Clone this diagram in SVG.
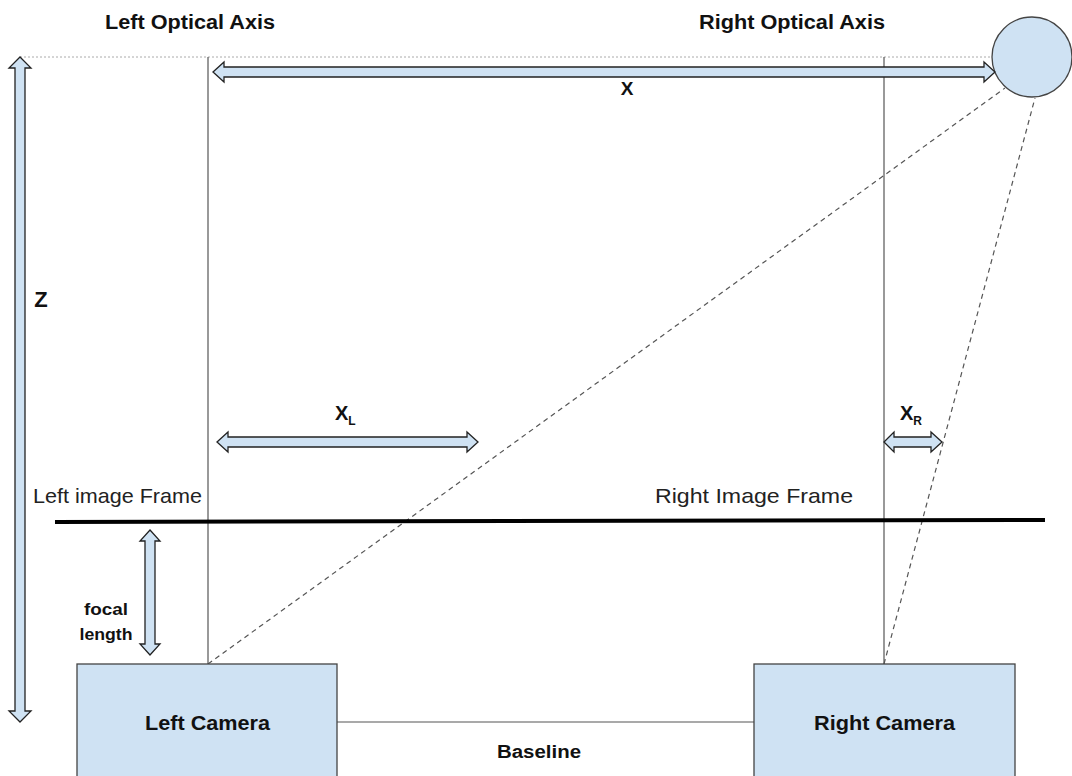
<svg xmlns="http://www.w3.org/2000/svg" width="1072" height="776" viewBox="0 0 1072 776">
  <style>
    .bold { font-family: "Liberation Sans", Arial, sans-serif; font-weight: bold; fill: #111; }
    .reg { font-family: "Liberation Sans", Arial, sans-serif; fill: #222; }
    .box { fill: #cfe2f3; stroke: #444; stroke-width: 1.3; }
    .dim { fill: #cfe2f3; stroke: #222; stroke-width: 1.3; stroke-linejoin: miter; }
    .axis { stroke: #555; stroke-width: 1.2; fill: none; }
    .ray { stroke: #555; stroke-width: 1.2; stroke-dasharray: 5 4; fill: none; }
    .guide { stroke: #aaa; stroke-width: 1; stroke-dasharray: 2 2; fill: none; }
  </style>
  <rect width="1072" height="776" fill="#ffffff"/>

  <!-- axis titles -->
  <text class="bold" x="105" y="29" font-size="20" textLength="170" lengthAdjust="spacingAndGlyphs">Left Optical Axis</text>
  <text class="bold" x="699" y="29" font-size="20" textLength="186" lengthAdjust="spacingAndGlyphs">Right Optical Axis</text>

  <!-- guide, axes and rays -->
  <g id="connectors">
    <line class="guide" x1="20" y1="57" x2="992" y2="57"/>
    <line class="axis" x1="208" y1="57" x2="208" y2="664"/>
    <line class="axis" x1="884" y1="57" x2="884" y2="664"/>
    <line class="ray" x1="208" y1="664" x2="1005" y2="88"/>
    <line class="ray" x1="884" y1="664" x2="1035" y2="98"/>
    <line class="axis" x1="337" y1="722" x2="754" y2="722"/>
    <line x1="55" y1="522" x2="1045" y2="520" stroke="#000" stroke-width="4"/>
  </g>

  <!-- object point -->
  <g id="object">
    <circle cx="1032" cy="57" r="40" class="box"/>
  </g>

  <!-- dimension arrows -->
  <g id="dim-z">
    <path class="dim" d="M20 57 L31 68 L25 68 L25 711 L31 711 L20 722 L9 711 L15 711 L15 68 L9 68 Z"/>
    <text class="bold" x="41" y="307" font-size="22" text-anchor="middle">Z</text>
  </g>
  <g id="dim-x">
    <path class="dim" d="M213 72 L224 62 L224 67 L984 67 L984 62 L995 72 L984 82 L984 77 L224 77 L224 82 Z"/>
    <text class="bold" x="627" y="95" font-size="19" text-anchor="middle">X</text>
  </g>
  <g id="dim-xl">
    <path class="dim" d="M217 442 L228 432 L228 437 L467 437 L467 432 L478 442 L467 452 L467 447 L228 447 L228 452 Z"/>
    <text class="bold" x="335" y="420" font-size="20">X<tspan font-size="12" dy="5">L</tspan></text>
  </g>
  <g id="dim-xr">
    <path class="dim" d="M884 442 L894 432 L894 437 L931 437 L931 432 L942 442 L931 452 L931 447 L894 447 L894 452 Z"/>
    <text class="bold" x="900" y="420" font-size="20">X<tspan font-size="12" dy="5">R</tspan></text>
  </g>
  <g id="dim-focal">
    <path class="dim" d="M150 530 L160 541 L155 541 L155 644 L160 644 L150 655 L140 644 L145 644 L145 541 L140 541 Z"/>
    <text class="bold" x="106" y="615" font-size="16" text-anchor="middle" textLength="44" lengthAdjust="spacingAndGlyphs">focal</text>
    <text class="bold" x="106" y="640" font-size="16" text-anchor="middle" textLength="53" lengthAdjust="spacingAndGlyphs">length</text>
  </g>

  <!-- image frame labels -->
  <text class="reg" x="33" y="503" font-size="21" textLength="169" lengthAdjust="spacingAndGlyphs">Left image Frame</text>
  <text class="reg" x="655" y="503" font-size="21" textLength="198" lengthAdjust="spacingAndGlyphs">Right Image Frame</text>

  <!-- cameras -->
  <g id="left-camera">
    <rect class="box" x="77" y="664" width="260" height="120"/>
    <text class="bold" x="145" y="730" font-size="20" textLength="125" lengthAdjust="spacingAndGlyphs">Left Camera</text>
  </g>
  <g id="right-camera">
    <rect class="box" x="754" y="664" width="261" height="120"/>
    <text class="bold" x="814" y="730" font-size="20" textLength="141" lengthAdjust="spacingAndGlyphs">Right Camera</text>
  </g>
  <text class="bold" x="497" y="758" font-size="18" textLength="84" lengthAdjust="spacingAndGlyphs">Baseline</text>
</svg>
